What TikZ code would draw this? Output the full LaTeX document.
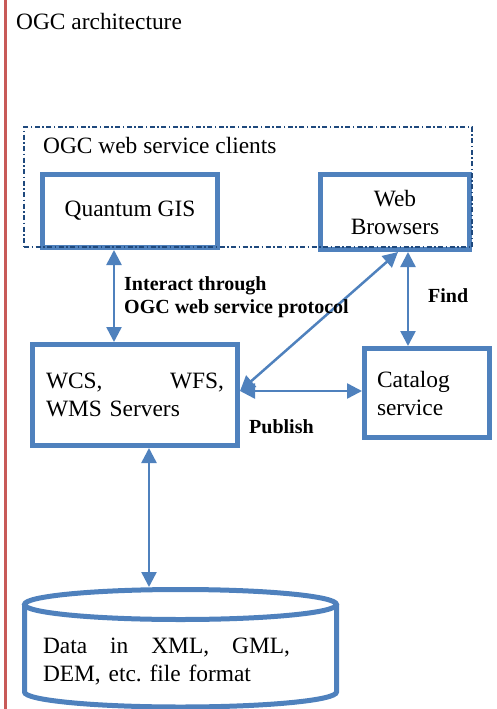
\documentclass[tikz,border=0pt]{standalone}
\usepackage{fontspec}
\setmainfont{Liberation Serif}
\usetikzlibrary{arrows.meta}
\definecolor{boxblue}{RGB}{79,129,189}
\definecolor{darkblue}{RGB}{31,73,125}
\definecolor{marginred}{RGB}{200,90,88}
\frenchspacing

\begin{document}
\begin{tikzpicture}[line cap=butt,line join=miter,x=1pt,y=-1pt,
	>={Triangle[length=15pt,width=15pt]},
	txt/.style={font=\fontsize{23.4}{28}\selectfont,inner sep=0pt},
	lbl/.style={font=\fontsize{20}{23}\selectfont\bfseries,inner sep=0pt,align=left},
	sbox/.style={draw=boxblue,line width=5pt,fill=white,inner sep=0pt,
		font=\fontsize{23.4}{28}\selectfont},
	link/.style={<->,draw=boxblue,line width=2.5pt},
	db/.style={draw=boxblue,line width=5pt}]

		\useasboundingbox (0,0) rectangle (496,709);

		%reunaviiva
		\draw[color=marginred,line width=3pt] (5,0)--(5,709);

		\node[txt,anchor=base west] (title) at (16,30) {OGC architecture};

		%laatikot
		\node[sbox,minimum width=175,minimum height=73] (qgis) at (130,211) {Quantum GIS};
		\node[sbox,minimum width=149,minimum height=75,align=center] (web) at (395,212) {Web\\Browsers};
		\node[sbox,minimum width=205,minimum height=101,text width=178,align=left] (wcs) at (135,395)
			{WCS,\hfill WFS,\\WMS Servers};
		\node[sbox,minimum width=125,minimum height=89,text width=100,align=left] (cat) at (427,393)
			{Catalog\\service};

		%asiakkaat
		\node[draw=darkblue,line width=2pt,dash pattern=on 5pt off 2.5pt on 1.5pt off 2.5pt,
			minimum width=448,minimum height=120,inner sep=0pt] (clients) at (248,187) {};
		\node[txt,anchor=base west] (clientslbl) at (43,153) {OGC web service clients};

		%tietokanta
		\draw[db,fill=white] (24.5,604.5) -- (24.5,692) arc[start angle=180,end angle=0,x radius=156,y radius=15] -- (336.5,604.5);
		\draw[db] (180.5,604.5) ellipse [x radius=156,y radius=15];
		\coordinate (dbtop) at (149,587);
		\node[txt,text width=247,align=left] (data) at (166.5,662)
			{Data\hfill in\hfill XML,\hfill GML,\\DEM, etc. file format};

		% nuolet
		\draw[link] ([xshift=-16pt]qgis.south) -- ([xshift=-21pt]wcs.north);
		\draw[link] ([xshift=13pt]web.south) -- ([xshift=-19pt]cat.north);
		\draw[link] ([xshift=3pt]web.south) -- ([yshift=4pt]wcs.east);
		\draw[link] ([yshift=4pt]wcs.east) -- ([yshift=4pt]wcs.east -| cat.west);
		\draw[link] ([xshift=14pt]wcs.south) -- (dbtop);

		\node[lbl,anchor=west] (interact) at (124,297) {Interact through\\OGC web service protocol};
		\node[lbl,anchor=base west] (find) at (428,302) {Find};
		\node[lbl,anchor=base west] (publish) at (249,433) {Publish};

	\end{tikzpicture}
\end{document}
